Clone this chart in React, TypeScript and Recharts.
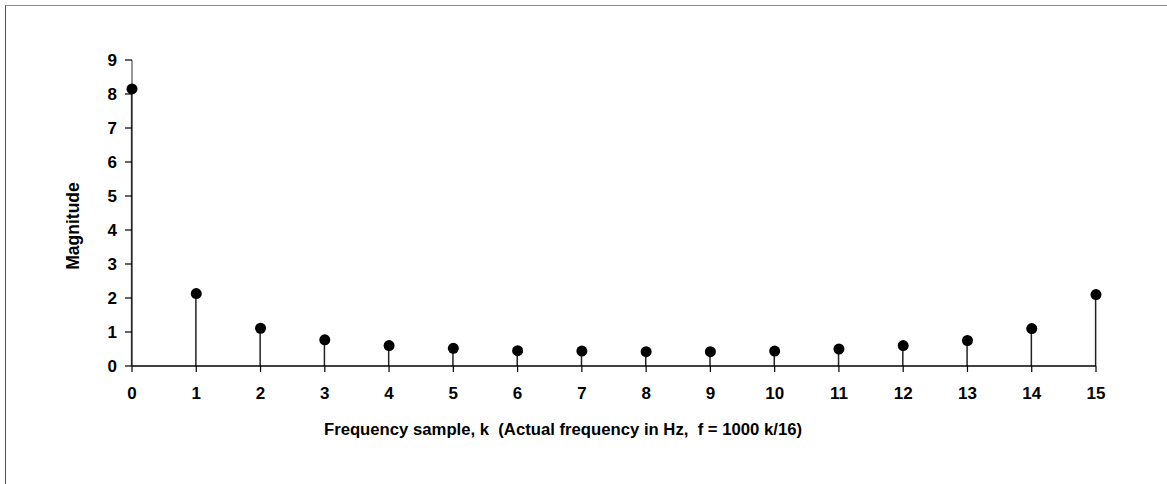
import React from "react";
import {
  ComposedChart,
  Bar,
  Scatter,
  XAxis,
  YAxis,
  Label,
} from "recharts";

const kValues: number[] = [0, 1, 2, 3, 4, 5, 6, 7, 8, 9, 10, 11, 12, 13, 14, 15];
const magnitudes: number[] = [8.15, 2.13, 1.11, 0.77, 0.6, 0.52, 0.45, 0.44, 0.42, 0.42, 0.44, 0.5, 0.6, 0.75, 1.1, 2.1];
const xTicks: number[] = [0, 1, 2, 3, 4, 5, 6, 7, 8, 9, 10, 11, 12, 13, 14, 15];
const yTicks: number[] = [0, 1, 2, 3, 4, 5, 6, 7, 8, 9];
const xTitle = "Frequency sample, k\u00a0\u00a0(Actual frequency in Hz,\u00a0\u00a0f\u00a0=\u00a01000 k/16)";
const yTitle = "Magnitude";

const data = kValues.map((k, i) => ({ k, mag: magnitudes[i] }));

const FONT = "'Liberation Sans', Arial, Helvetica, sans-serif";

const Dot = (props: any) => {
  const { cx, cy } = props;
  if (cx == null || cy == null) return null;
  return <circle cx={cx} cy={cy} r={5.5} fill="#000" />;
};

const YTitle = (props: any) => {
  const vb = props.viewBox || {};
  const x = (vb.x ?? 0) + 13;
  const y = (vb.y ?? 0) + (vb.height ?? 0) / 2 + 13;
  return (
    <text
      x={x}
      y={y}
      transform={`rotate(-90, ${x}, ${y})`}
      textAnchor="middle"
      dominantBaseline="central"
      fill="#000"
      fontSize={17.5}
      fontWeight={700}
      fontFamily={FONT}
    >
      {yTitle}
    </text>
  );
};

export default function App() {
  return (
    <div
      style={{
        position: "absolute",
        left: 0,
        top: 0,
        width: 1167,
        height: 484,
        background: "#fff",
        overflow: "hidden",
      }}
    >
      <div
        style={{
          position: "absolute",
          left: 5,
          top: 5,
          width: 1162,
          height: 479,
          borderTop: "1.5px solid #8a8a8a",
          borderLeft: "1px solid #555",
          boxSizing: "border-box",
        }}
      />
      <div style={{ position: "absolute", left: 0, top: 0 }}>
        <ComposedChart
          width={1167}
          height={484}
          data={data}
          margin={{ top: 60, right: 71, bottom: 88, left: 60 }}
        >
          <XAxis
            dataKey="k"
            type="number"
            domain={[0, 15]}
            ticks={xTicks}
            interval={0}
            allowDecimals={false}
            height={30}
            tickSize={6}
            tickMargin={15}
            axisLine={{ stroke: "#000", strokeWidth: 1.6 }}
            tickLine={{ stroke: "#000", strokeWidth: 1.2 }}
            tick={{ fill: "#000", fontSize: 17, fontWeight: 700, fontFamily: FONT }}
          >
            <Label
              value={xTitle}
              position="bottom"
              offset={27}
              dx={-51}
              style={{ fill: "#000", fontSize: 16.7, fontWeight: 700, fontFamily: FONT }}
            />
          </XAxis>
          <YAxis
            type="number"
            domain={[0, 9]}
            ticks={yTicks}
            interval={0}
            width={72}
            tickSize={7}
            tickMargin={8}
            axisLine={{ stroke: "#333", strokeWidth: 1 }}
            tickLine={{ stroke: "#000", strokeWidth: 1.2 }}
            tick={{ fill: "#000", fontSize: 17, fontWeight: 700, fontFamily: FONT }}
          >
            <Label content={<YTitle />} position="insideLeft" />
          </YAxis>
          <Bar dataKey="mag" barSize={1.5} fill="#222" isAnimationActive={false} />
          <Scatter dataKey="mag" shape={<Dot />} isAnimationActive={false} />
        </ComposedChart>
      </div>
    </div>
  );
}
